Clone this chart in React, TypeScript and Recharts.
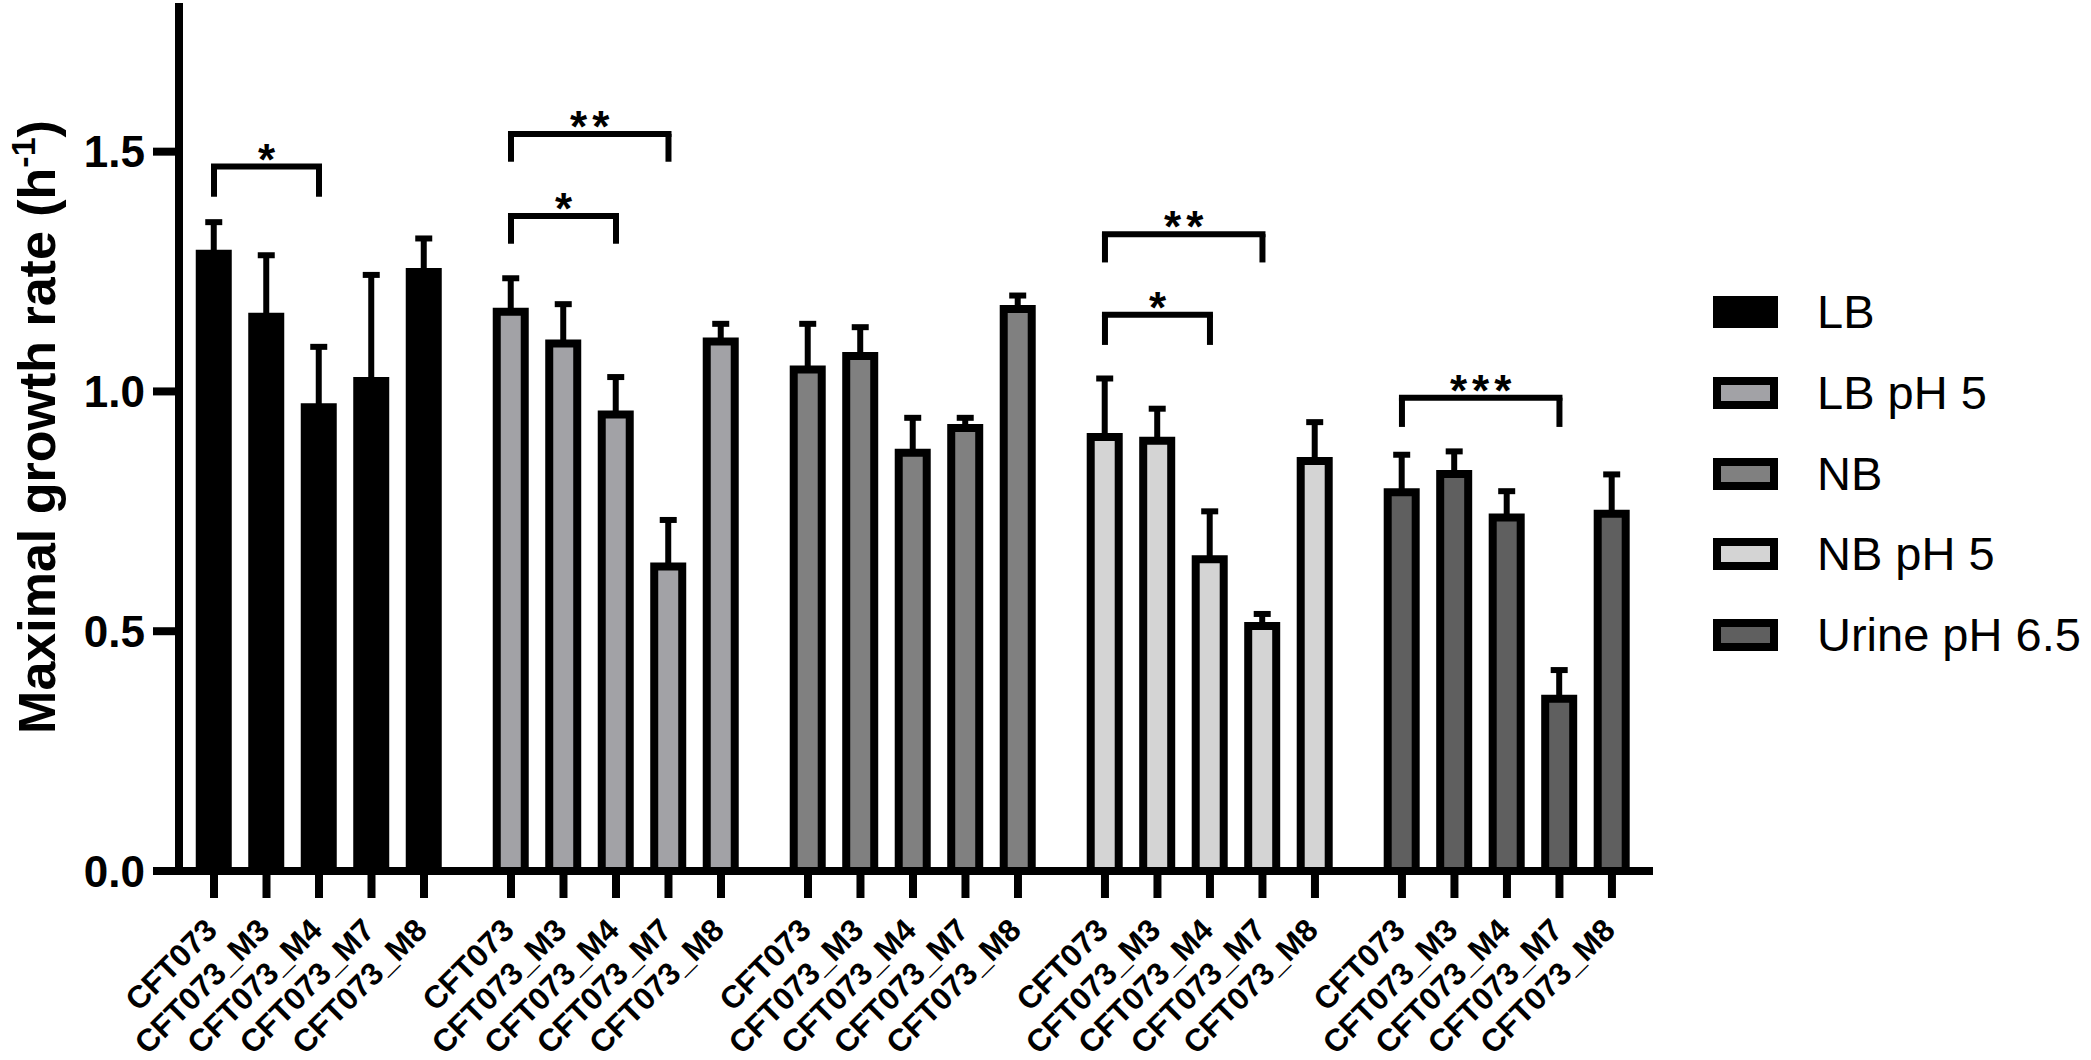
import React from 'react';
import {
  BarChart,
  Bar,
  XAxis,
  YAxis,
  ErrorBar,
  Cell,
  ReferenceLine,
  ReferenceDot,
  Label
} from 'recharts';

const FONT = '"Liberation Sans", Arial, Helvetica, sans-serif';

const strains = ['CFT073', 'CFT073_M3', 'CFT073_M4', 'CFT073_M7', 'CFT073_M8'];
const media = ['LB', 'LB pH 5', 'NB', 'NB pH 5', 'Urine pH 6.5'];
const mediaFills = ['#000000', '#a2a2a6', '#808080', '#d4d4d4', '#5f5f5f'];

// mean growth rates (h-1) and the upper error (SD) per strain
const lbMean = [1.287, 1.156, 0.967, 1.022, 1.249];
const lbSd = [0.066, 0.128, 0.126, 0.221, 0.07];
const lbPh5Mean = [1.166, 1.1, 0.952, 0.635, 1.104];
const lbPh5Sd = [0.07, 0.082, 0.078, 0.097, 0.037];
const nbMean = [1.046, 1.074, 0.872, 0.924, 1.172];
const nbSd = [0.095, 0.06, 0.073, 0.021, 0.028];
const nbPh5Mean = [0.905, 0.897, 0.65, 0.511, 0.855];
const nbPh5Sd = [0.122, 0.067, 0.1, 0.025, 0.081];
const urineMean = [0.79, 0.828, 0.737, 0.359, 0.745];
const urineSd = [0.078, 0.047, 0.055, 0.06, 0.082];

const means = [lbMean, lbPh5Mean, nbMean, nbPh5Mean, urineMean];
const sds = [lbSd, lbPh5Sd, nbSd, nbPh5Sd, urineSd];

// significance brackets: group, first and last strain index, bracket height, leg end
const brackets = [
  { group: 0, from: 0, to: 2, top: 1.469, leg: 1.406, stars: '*' },
  { group: 1, from: 0, to: 3, top: 1.537, leg: 1.479, stars: '**' },
  { group: 1, from: 0, to: 2, top: 1.366, leg: 1.308, stars: '*' },
  { group: 3, from: 0, to: 3, top: 1.328, leg: 1.269, stars: '**' },
  { group: 3, from: 0, to: 2, top: 1.16, leg: 1.097, stars: '*' },
  { group: 4, from: 0, to: 3, top: 0.987, leg: 0.926, stars: '***' }
];

const yTicks = [0, 0.5, 1.0, 1.5];

const GROUP_GAP = 0.657;
const slot = (g: number, i: number) => g * (strains.length + GROUP_GAP) + i;

const data = media.flatMap((m, g) =>
  strains.map((s, i) => ({
    x: slot(g, i),
    name: s,
    medium: m,
    group: g,
    value: means[g][i],
    err: [0, sds[g][i]]
  }))
);

const XTick = (props: any) => {
  const { x, y, payload } = props;
  const d = data.find(e => e.x === payload.value);
  const ax = x + 5;
  const ay = y + 34;
  return (
    <text
      x={ax}
      y={ay}
      transform={`rotate(-45, ${ax}, ${ay})`}
      textAnchor="end"
      fontSize={31.5}
      fontWeight="bold"
      fontFamily={FONT}
      fill="#000"
    >
      {d ? d.name : ''}
    </text>
  );
};

const YTitle = () => (
  <text
    x={55}
    y={427}
    transform="rotate(-90, 55, 427)"
    textAnchor="middle"
    fontSize={52}
    fontWeight="bold"
    fontFamily={FONT}
    fill="#000"
  >
    Maximal growth rate (h
    <tspan dy={-20} fontSize={34}>-1</tspan>
    <tspan dy={20}>)</tspan>
  </text>
);

const StarText = (text: string) => (props: any) => (
  <text
    x={props.cx + 2.5}
    y={props.cy + 8}
    textAnchor="middle"
    fontSize={44}
    fontWeight="bold"
    letterSpacing={5}
    fontFamily={FONT}
    fill="#000"
  >
    {text}
  </text>
);

const App: React.FC = () => {
  return (
    <div style={{ position: 'absolute', left: 0, top: 0, width: 2091, height: 1060, background: '#fff' }}>
      <BarChart
        width={2091}
        height={1060}
        data={data}
        margin={{ top: 3, right: 438, bottom: 0, left: 0 }}
      >
        <XAxis
          type="number"
          dataKey="x"
          domain={[-0.6667, 27.41]}
          allowDataOverflow
          ticks={data.map(d => d.x)}
          interval={0}
          height={189}
          tickSize={27}
          tickMargin={0}
          axisLine={{ stroke: '#000', strokeWidth: 8 }}
          tickLine={{ stroke: '#000', strokeWidth: 8 }}
          tick={<XTick />}
        />
        <YAxis
          type="number"
          domain={[0, 1.81]}
          allowDataOverflow
          ticks={yTicks}
          width={179}
          tickSize={26}
          tickMargin={8}
          tickFormatter={(v: number) => v.toFixed(1)}
          axisLine={{ stroke: '#000', strokeWidth: 8 }}
          tickLine={{ stroke: '#000', strokeWidth: 8 }}
          tick={{ fontSize: 44, fontWeight: 'bold', fill: '#000', fontFamily: FONT }}
        >
          <Label content={() => <YTitle />} />
        </YAxis>
        <Bar
          dataKey="value"
          barSize={28}
          stroke="#000"
          strokeWidth={8}
          isAnimationActive={false}
        >
          {data.map(d => (
            <Cell key={`cell-${d.x}`} fill={mediaFills[d.group]} />
          ))}
          <ErrorBar
            dataKey="err"
            direction="y"
            width={8.5}
            strokeWidth={6}
            stroke="#000"
            isAnimationActive={false}
          />
        </Bar>
        {brackets.map((b, k) => {
          const x1 = slot(b.group, b.from);
          const x2 = slot(b.group, b.to);
          return (
            <React.Fragment key={`br-${k}`}>
              <ReferenceLine
                segment={[{ x: x1, y: b.top }, { x: x2, y: b.top }]}
                stroke="#000"
                strokeWidth={6}
                strokeLinecap="square"
                ifOverflow="visible"
              />
              <ReferenceLine
                segment={[{ x: x1, y: b.leg }, { x: x1, y: b.top }]}
                stroke="#000"
                strokeWidth={6}
                ifOverflow="visible"
              />
              <ReferenceLine
                segment={[{ x: x2, y: b.leg }, { x: x2, y: b.top }]}
                stroke="#000"
                strokeWidth={6}
                ifOverflow="visible"
              />
              <ReferenceDot
                x={(x1 + x2) / 2}
                y={b.top}
                r={0}
                ifOverflow="visible"
                shape={StarText(b.stars)}
              />
            </React.Fragment>
          );
        })}
      </BarChart>
      <div style={{ position: 'absolute', left: 1713, top: 0, fontFamily: FONT }}>
        {media.map((m, i) => (
          <div
            key={m}
            style={{
              position: 'absolute',
              left: 0,
              top: 296 + i * 80.75,
              height: 32,
              display: 'flex',
              alignItems: 'center',
              whiteSpace: 'nowrap'
            }}
          >
            <div
              style={{
                width: 65,
                height: 32,
                boxSizing: 'border-box',
                border: '8px solid #000',
                background: mediaFills[i]
              }}
            />
            <span style={{ marginLeft: 39, fontSize: 47, color: '#000', lineHeight: '32px' }}>{m}</span>
          </div>
        ))}
      </div>
    </div>
  );
};

export default App;
